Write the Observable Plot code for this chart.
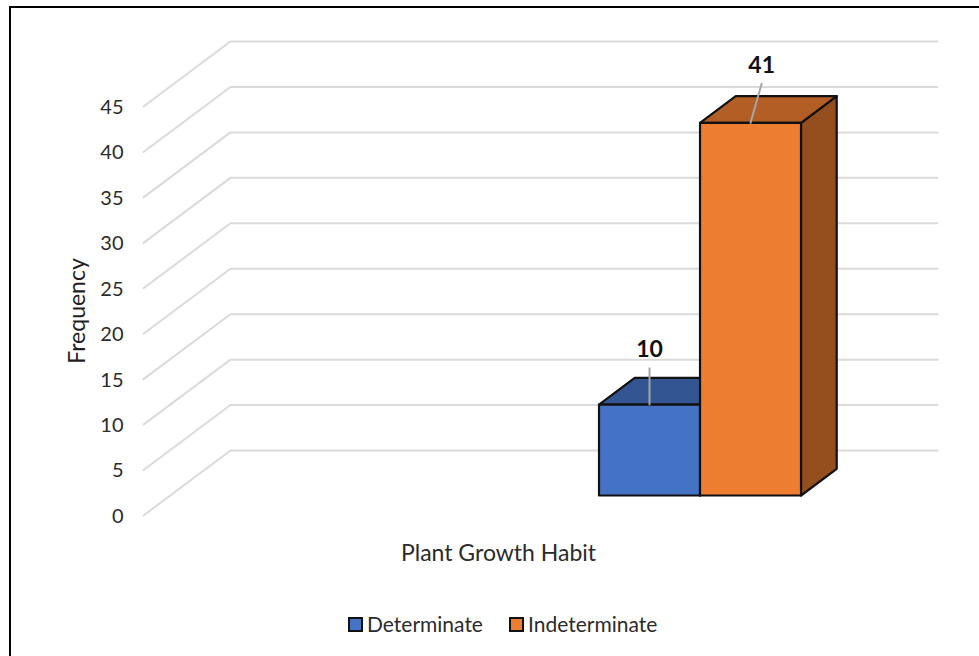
<!DOCTYPE html>
<html>
<head>
<meta charset="utf-8">
<script src="https://cdn.jsdelivr.net/npm/d3@7"></script>
<script src="https://cdn.jsdelivr.net/npm/@observablehq/plot@0.6"></script>
<style>
  html, body { margin: 0; padding: 0; background: #fff; overflow: hidden; }
  #page { position: relative; width: 979px; height: 656px; font-family: Lato, sans-serif; }
  #border { position: absolute; left: 9px; top: 6px; right: 0; bottom: 0;
            border-top: 2px solid #000; border-left: 2px solid #000; pointer-events: none; }
  #chart svg { display: block; position: absolute; left: 0; top: 0; }
  #legend { position: absolute; left: 348px; top: 611px; display: flex; align-items: center;
            font-size: 21px; color: #2b2b2b; line-height: 26px; white-space: nowrap; }
  #legend .swatch { width: 11px; height: 11px; border: 2px solid #111; margin-right: 4px; }
  #legend .entry { display: flex; align-items: center; margin-right: 26px; }
</style>
</head>
<body>
<div id="page">
  <div id="chart"></div>
  <div id="legend"></div>
  <div id="border"></div>
</div>
<script>
// Chart data
const categories = ["Determinate", "Indeterminate"];
const frequencies = [10, 41];
const yTicks = [0, 5, 10, 15, 20, 25, 30, 35, 40, 45];

// Colours per category: front, top and side faces
const frontColors = ["#4472C4", "#ED7D31"];
const topColors = ["#335693", "#B25E25"];
const sideColors = ["#2B4A80", "#954F1F"];

// Oblique projection: a step of depth 0..1 moves right and up in data units
const depthX = 0.861;
const depthY = 7.15;
const project = (c, v, d) => ({x: c + d * depthX, y: v + d * depthY});

// Extent of the floor and walls, and where the bars sit on the floor
const wallLeft = -4.25;
const wallRight = 2.75;
const barStart = -0.005;
const barFront = 0.3077;
const barBack = 0.718;

// Gridlines run from the front edge to the back wall, then across it
const gridRows = yTicks.flatMap((v) => [
  {tick: v, ...project(wallLeft, v, 0)},
  {tick: v, ...project(wallLeft, v, 1)},
  {tick: v, ...project(wallRight, v, 1)}
]);

// Each bar is three closed faces
const face = (id, fill, corners) =>
  [...corners, corners[0]].map(([c, v, d]) => ({id, fill, ...project(c, v, d)}));

const barFaces = categories.flatMap((name, i) => {
  const v = frequencies[i];
  const l = barStart + i, r = barStart + i + 1;
  return [
    ...face(`${name}-side`, sideColors[i], [[r, 0, barFront], [r, 0, barBack], [r, v, barBack], [r, v, barFront]]),
    ...face(`${name}-top`, topColors[i], [[l, v, barFront], [r, v, barFront], [r, v, barBack], [l, v, barBack]]),
    ...face(`${name}-front`, frontColors[i], [[l, 0, barFront], [r, 0, barFront], [r, v, barFront], [l, v, barFront]])
  ];
});

// Value labels sit above each bar, joined to its top edge by a leader
const labelOffsets = [{x: 0, y: 6}, {x: 0.11, y: 6.3}];
const leaderGaps = [{x: 0, y: 4}, {x: 0.11, y: 4.3}];
const labels = categories.map((name, i) => {
  const base = project(barStart + i + 0.5, frequencies[i], barFront);
  return {
    text: String(frequencies[i]),
    x: base.x + labelOffsets[i].x,
    y: base.y + labelOffsets[i].y
  };
});
const leaders = categories.flatMap((name, i) => {
  const base = project(barStart + i + 0.5, frequencies[i], barFront);
  return [
    {id: name, x: base.x, y: base.y},
    {id: name, x: base.x + leaderGaps[i].x, y: base.y + leaderGaps[i].y}
  ];
});

const chart = Plot.plot({
  width: 979,
  height: 605,
  marginLeft: 143,
  marginRight: 41,
  marginTop: 106,
  marginBottom: 90,
  style: {fontFamily: "Lato, sans-serif", background: "transparent", overflow: "visible"},
  x: {domain: [wallLeft, wallRight + depthX + 0.01], axis: null},
  y: {domain: [0, 45]},
  color: {type: "identity"},
  marks: [
    Plot.line(gridRows, {x: "x", y: "y", z: "tick", stroke: "#DADADA", strokeWidth: 2, strokeLinejoin: "round"}),
    Plot.axisY({
      ticks: yTicks,
      tickSize: 0,
      tickPadding: 20,
      fontSize: 20,
      dy: 1,
      fill: "#2b2b2b",
      label: null
    }),
    Plot.axisY({
      ticks: [],
      fontSize: 23,
      fill: "#1f1f1f",
      label: "Frequency",
      labelAnchor: "center",
      labelArrow: "none",
      labelOffset: 75
    }),
    Plot.line(barFaces, {
      x: "x", y: "y", z: "id", fill: "fill",
      stroke: "#111", strokeWidth: 2.2, strokeLinejoin: "round"
    }),
    Plot.line(leaders, {x: "x", y: "y", z: "id", stroke: "#A6A6A6", strokeWidth: 2}),
    Plot.text(labels, {
      x: "x", y: "y", text: "text",
      fontSize: 23, fontWeight: 700, fill: "#111"
    }),
    Plot.text(["Plant Growth Habit"], {
      x: [-0.735], y: [-4.2], text: (d) => d,
      fontSize: 23, fill: "#2b2b2b"
    })
  ]
});
document.getElementById("chart").append(chart);

// Swatch legend beneath the plot
const legend = d3.select("#legend");
categories.forEach((name, i) => {
  const entry = legend.append("div").attr("class", "entry");
  entry.append("div").attr("class", "swatch").style("background", frontColors[i]);
  entry.append("span").text(name);
});
</script>
</body>
</html>
